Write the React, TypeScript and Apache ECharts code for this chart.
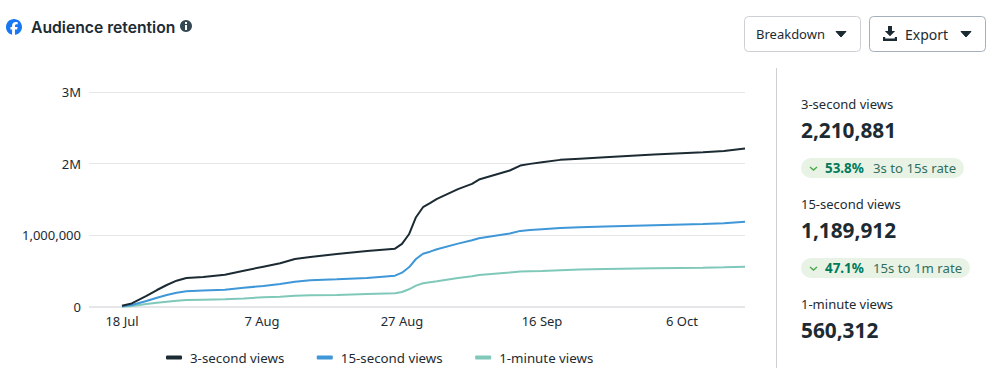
import React, { useEffect, useRef } from "react";
import * as echarts from "echarts";

const days = [0, 1.4, 3.5, 5, 6.4, 7.8, 9.2, 11.6, 14.7, 17.4, 20.2, 22.6, 24.7, 26.9, 30.7, 35, 39, 40, 41, 42, 43, 44, 45, 48, 50, 51, 55.4, 56.9, 58.3, 60, 62.6, 65.4, 69, 76, 83, 86, 89];
const threeSecond = [18000, 50000, 154000, 237000, 307000, 367000, 405000, 419000, 451000, 507000, 563000, 610000, 670000, 698000, 740000, 782000, 814000, 880000, 1015000, 1253000, 1392000, 1448000, 1508000, 1644000, 1718000, 1778000, 1905000, 1973000, 1997000, 2020000, 2053000, 2070000, 2090000, 2127000, 2160000, 2178000, 2210881];
const fifteenSecond = [10000, 28000, 84000, 130000, 168000, 200000, 219000, 230000, 242000, 270000, 293000, 321000, 353000, 373000, 387000, 405000, 437000, 479000, 554000, 670000, 744000, 772000, 806000, 884000, 931000, 960000, 1025000, 1062000, 1074000, 1085000, 1102000, 1112000, 1122000, 1141000, 1159000, 1169000, 1189912];
const oneMinute = [5000, 14000, 42000, 60000, 74000, 88000, 98000, 102000, 107000, 120000, 135000, 144000, 158000, 163000, 168000, 182000, 191000, 210000, 247000, 298000, 331000, 345000, 359000, 405000, 429000, 447000, 482000, 496000, 500000, 504000, 514000, 522000, 531000, 540000, 549000, 554000, 560312];
const seriesNames = ["3-second views", "15-second views", "1-minute views"];
const seriesColors = ["#1c2b33", "#3f97d8", "#7fc8ba"];
const xTickDays = [0, 20, 40, 60, 80];
const xTickLabels = ["18 Jul", "7 Aug", "27 Aug", "16 Sep", "6 Oct"];
const yTickLabels: Record<number, string> = { 0: "0", 1000000: "1,000,000", 2000000: "2M", 3000000: "3M" };

const FONT = "'Noto Sans', sans-serif";
const DARK = "#1c2b33";
const FB_PATH = "M24 12c0-6.63-5.37-12-12-12S0 5.37 0 12c0 5.63 3.87 10.35 9.1 11.65v-7.98H6.62V12H9.1v-1.58c0-4.08 1.85-5.97 5.86-5.97.76 0 2.07.15 2.61.3v3.32c-.28-.03-.78-.05-1.39-.05-1.97 0-2.73.75-2.73 2.69V12h3.92l-.67 3.67h-3.25v8.07C19.38 23.02 24 18.05 24 12z";
const DL_PATH = "M5 0h4v5h3.2L7 10.2 1.8 5H5zM0 11h2.2v1.6h9.6V11H14v4H0z";

echarts.graphic.registerShape("fbLogo", echarts.graphic.extendPath(FB_PATH, {}));
echarts.graphic.registerShape("dlIcon", echarts.graphic.extendPath(DL_PATH, {}));

const txt = (x: number, y: number, text: string, size: number, fill: string, weight: number | string = 400, family = FONT) => ({
  type: "text", x, y,
  style: { text, fontSize: size, fill, fontWeight: weight, fontFamily: family, textVerticalAlign: "middle", textAlign: "left" },
});
const caret = (x: number, y: number) => ({
  type: "polygon",
  shape: { points: [[x, y], [x + 10, y], [x + 5, y + 5.5]] },
  style: { fill: DARK, stroke: DARK, lineWidth: 1, lineJoin: "round" },
});
const chevron = (x: number, y: number) => ({
  type: "polyline",
  shape: { points: [[x, y], [x + 3.5, y + 3], [x + 7, y]] },
  style: { stroke: "#4aa84a", lineWidth: 1.4, fill: "none" },
});
const button = (x: number, w: number, border: string) => ({
  type: "rect",
  shape: { x: x + 0.5, y: 16.5, width: w, height: 35, r: 4 },
  style: { fill: "#fff", stroke: border, lineWidth: 1 },
});
const pill = (w: number, y: number) => ({
  type: "rect",
  shape: { x: 801, y, width: w, height: 20, r: 10 },
  style: { fill: "#e9f3e5" },
});

export default function App() {
  const ref = useRef<HTMLDivElement>(null);
  useEffect(() => {
    const chart = echarts.init(ref.current!, undefined, { renderer: "svg" });
    const all = [threeSecond, fifteenSecond, oneMinute];
    chart.setOption({
      animation: false,
      backgroundColor: "#fff",
      grid: { left: 89, right: 256, top: 92, bottom: 77, containLabel: false },
      xAxis: {
        type: "value",
        min: -4.71,
        max: 89,
        splitLine: { show: false },
        axisLine: { show: false },
        axisTick: { show: false },
        axisLabel: {
          customValues: xTickDays,
          margin: 7,
          color: DARK,
          fontSize: 13,
          fontFamily: FONT,
          formatter: (v: number) => xTickLabels[xTickDays.indexOf(Math.round(v))] ?? "",
        },
      },
      yAxis: {
        type: "value",
        min: 0,
        max: 3000000,
        interval: 1000000,
        axisLine: { show: false },
        axisTick: { show: false },
        splitLine: { lineStyle: { color: "#e4e6e8", width: 1 } },
        axisLabel: {
          margin: 8,
          color: DARK,
          fontSize: 13,
          fontFamily: FONT,
          formatter: (v: number) => yTickLabels[v] ?? "",
        },
      },
      legend: {
        top: 346,
        left: 161,
        itemWidth: 16,
        itemHeight: 4,
        itemGap: 32.5,
        icon: "roundRect",
        textStyle: { color: DARK, fontSize: 13.3, fontFamily: FONT, padding: [0, 0, 0, 3] },
        data: seriesNames,
      },
      series: seriesNames.map((name, i) => ({
        name,
        type: "line",
        showSymbol: false,
        symbol: "none",
        smooth: false,
        clip: false,
        lineStyle: { color: seriesColors[i], width: 2 },
        itemStyle: { color: seriesColors[i] },
        z: 3 - i,
        data: days.map((d, k) => [d, all[i][k]]),
      })),
      graphic: { elements: [
        { type: "rect", shape: { x: 89, y: 306, width: 656, height: 2 }, style: { fill: "#e4e6e8" }, z: 0 },
        { type: "fbLogo", x: 6, y: 19, scaleX: 16 / 24, scaleY: 16 / 24, style: { fill: "#1877f2" } },
        txt(31, 27, "Audience retention", 15.7, DARK, 600, "Inter, sans-serif"),
        { type: "circle", shape: { cx: 186, cy: 26, r: 6 }, style: { fill: "#344854" } },
        { type: "rect", shape: { x: 185, y: 25, width: 2, height: 5 }, style: { fill: "#fff" }, z: 5 },
        { type: "rect", shape: { x: 185, y: 22, width: 2, height: 2 }, style: { fill: "#fff" }, z: 5 },
        button(744, 116, "#ccd0d5"),
        button(869, 116, "#a5afb9"),
        txt(756, 34, "Breakdown", 13, DARK),
        caret(836, 31.5),
        { type: "dlIcon", x: 883, y: 26, style: { fill: DARK } },
        txt(905, 34, "Export", 14, DARK),
        caret(961, 31.5),
        { type: "line", shape: { x1: 776.5, y1: 68, x2: 776.5, y2: 368 }, style: { stroke: "#ced0d4", lineWidth: 1 } },
        txt(801, 104, "3-second views", 13, DARK),
        txt(801, 129.5, "2,210,881", 20.8, DARK, 700),
        pill(163, 158),
        chevron(810, 167),
        txt(825, 168, "53.8%", 13.4, "#007a5a", 700),
        txt(873, 168, "3s to 15s rate", 13.2, "#2f6f60"),
        txt(801, 204, "15-second views", 13, DARK),
        txt(801, 229.5, "1,189,912", 20.8, DARK, 700),
        pill(169, 258),
        chevron(810, 267),
        txt(825, 268, "47.1%", 13.4, "#007a5a", 700),
        txt(873, 268, "15s to 1m rate", 13.2, "#2f6f60"),
        txt(801, 304, "1-minute views", 13, DARK),
        txt(801, 329.5, "560,312", 20.8, DARK, 700),
      ] },
    });
    return () => chart.dispose();
  }, []);
  return <div ref={ref} style={{ position: "absolute", left: 0, top: 0, width: 1001, height: 384 }} />;
}
